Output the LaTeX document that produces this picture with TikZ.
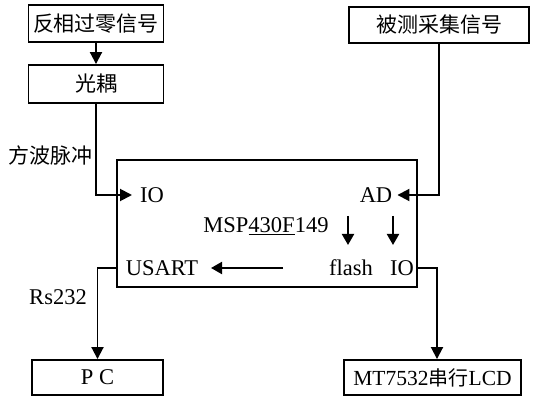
\documentclass[tikz,border=0pt]{standalone}
\usepackage{fontspec}
\setmainfont{Liberation Serif}
\newfontfamily\cjk{Noto Sans CJK SC}
\usetikzlibrary{arrows.meta}
\begin{document}
\begin{tikzpicture}[x=1pt,y=-1pt,
  lw/.style={line width=1.9pt},
  box/.style={draw,lw,rectangle,inner sep=0pt,font=\fontsize{21}{23}\selectfont\cjk},
  lat/.style={inner sep=2pt,font=\fontsize{22.5}{24}\selectfont},
  cn/.style={inner sep=2pt,font=\fontsize{21}{23}\selectfont\cjk},
  arr/.style={lw,-{Triangle[length=12pt,width=12pt]}},
  sarr/.style={lw,-{Triangle[length=11pt,width=12pt]}}]
\useasboundingbox (0,0) rectangle (539,398);
% boxes
\node[box,minimum width=135pt,minimum height=37pt] (b1) at (96,23.5) {反相过零信号};
\node[box,minimum width=135pt,minimum height=38pt] (b2) at (96,84) {光耦};
\node[box,minimum width=180pt,minimum height=36pt] (b3) at (439,25) {被测采集信号};
\node[draw,lw,minimum width=300pt,minimum height=127pt,inner sep=0pt] (mcu) at (267,223.5) {};
\node[box,minimum width=131pt,minimum height=35pt,font=\fontsize{22.5}{24}\selectfont] (pc) at (97.5,377.5) {P C};
\node[box,minimum width=177pt,minimum height=35pt,font=\fontsize{21.5}{23}\selectfont] (lcd) at (432.5,377.5) {MT7532{\cjk\fontsize{20}{22}\selectfont 串行}LCD};
% inner texts
\node[lat,anchor=west] (io1) at (138,195) {IO};
\node[lat] (ad) at (376,195) {AD};
\node[lat] (msp) at (266,226) {MSP\underline{430F}149};
\node[lat] (usart) at (162,268) {USART};
\node[lat] (flash) at (351,268) {flash};
\node[lat] (io2) at (402,268) {IO};
\coordinate (a1s) at (348,216);
\coordinate (a1e) at (348,245);
\coordinate (a2s) at (393,216);
\coordinate (a2e) at (393,245);
\coordinate (la) at (283,268);
\coordinate (lb) at (211,268);
% labels
\node[cn] (fb) at (51,155) {方波脉冲};
\node[lat] (rs) at (58,297) {Rs232};
% connectors
\draw[arr] (b1.south) -- (b2.north);
\draw[arr] (b2.south) |- ([xshift=-6pt]io1.west);
\draw[arr] (b3.south) |- ([xshift=3pt]ad.east);
\draw[arr] (mcu.west |- usart.west) -| (pc.north);
\draw[arr] (mcu.east |- io2.east) -| ([xshift=4.5pt]lcd.north);
\draw[sarr] (a1s) -- (a1e);
\draw[sarr] (a2s) -- (a2e);
\draw[sarr] (la) -- (lb);
\end{tikzpicture}
\end{document}
